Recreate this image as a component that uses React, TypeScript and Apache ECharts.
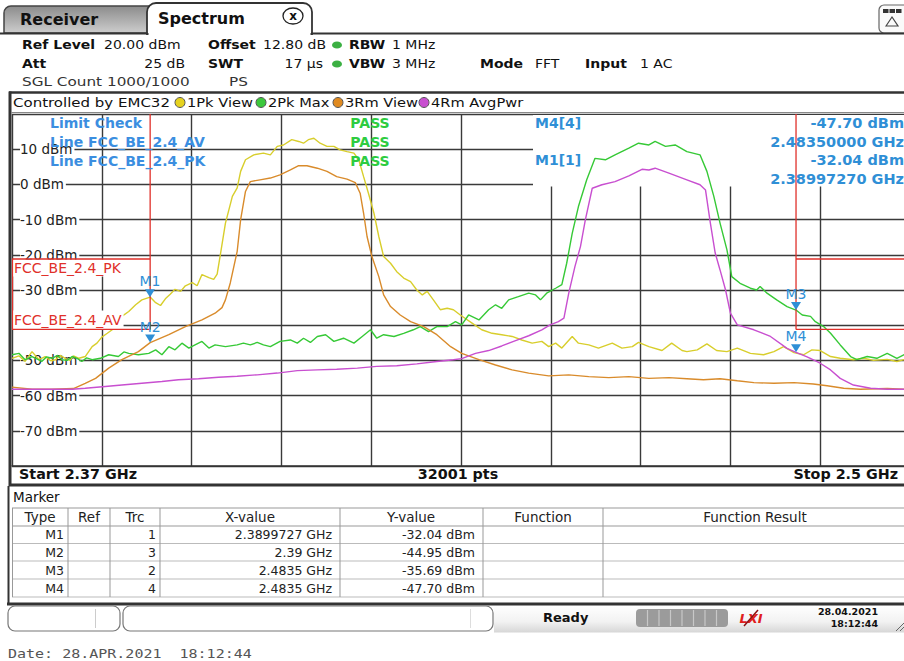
import React, { useEffect, useRef } from "react";
import * as echarts from "echarts";

const FONT = '"DejaVu Sans", Verdana, sans-serif';
const MONO = '"DejaVu Sans Mono", monospace';

const startGHz = 2.37;
const stopGHz = 2.5;
const refTop = 20;
const refBottom = -80;
const dbPerDiv = 10;
const mhzPerDiv = 13;
const sweepPoints = 32001;

const traceNames = ["1Pk View", "2Pk Max", "3Rm View", "4Rm AvgPwr"];
const traceColors = ["#d8ce2c", "#36c936", "#d98b2b", "#c84fd0"];
const legendDotColors = ["#e6d21e", "#3cc83c", "#e08a20", "#c84fd0"];

// [frequency GHz, level dBm]
const trace1PkView: [number, number][] = [
  [2.3700, -49.4], [2.3710, -48.7], [2.3719, -50.3], [2.3729, -47.5], [2.3739, -49.8], [2.3748, -48.9],
  [2.3756, -50.1], [2.3763, -49.8], [2.3770, -48.6], [2.3777, -49.4], [2.3784, -50.0], [2.3789, -48.7],
  [2.3797, -49.4], [2.3806, -48.9], [2.3816, -46.1], [2.3823, -45.1], [2.3830, -43.4], [2.3838, -42.3],
  [2.3845, -41.3], [2.3852, -39.0], [2.3859, -37.5], [2.3869, -36.1], [2.3879, -34.2], [2.3888, -32.8],
  [2.3900, -32.0], [2.3908, -33.6], [2.3915, -34.4], [2.3922, -32.5], [2.3929, -31.2], [2.3936, -29.8],
  [2.3944, -30.4], [2.3951, -28.8], [2.3961, -27.9], [2.3968, -28.8], [2.3975, -25.6], [2.3985, -26.5],
  [2.3992, -27.0], [2.3997, -25.5], [2.4002, -19.5], [2.4009, -11.0], [2.4019, -3.4], [2.4026, -1.0],
  [2.4031, 3.7], [2.4038, 7.0], [2.4050, 8.4], [2.4064, 8.9], [2.4074, 8.4], [2.4084, 10.8],
  [2.4093, 11.2], [2.4105, 12.7], [2.4115, 12.2], [2.4122, 11.7], [2.4129, 12.7], [2.4137, 13.1],
  [2.4146, 11.7], [2.4156, 10.8], [2.4166, 10.8], [2.4175, 9.8], [2.4185, 9.3], [2.4195, 8.9],
  [2.4202, 7.0], [2.4209, 2.2], [2.4216, -2.5], [2.4224, -8.2], [2.4231, -14.8], [2.4238, -20.5],
  [2.4248, -22.4], [2.4257, -24.8], [2.4267, -26.6], [2.4277, -27.6], [2.4286, -30.0], [2.4294, -31.4],
  [2.4301, -30.4], [2.4310, -32.8], [2.4320, -35.6], [2.4330, -35.2], [2.4339, -35.6], [2.4349, -37.1],
  [2.4366, -39.4], [2.4380, -41.3], [2.4395, -42.3], [2.4409, -42.7], [2.4424, -43.2], [2.4438, -44.2],
  [2.4453, -45.1], [2.4467, -44.6], [2.4477, -46.1], [2.4487, -45.1], [2.4496, -46.5], [2.4511, -43.2],
  [2.4520, -45.1], [2.4535, -45.6], [2.4549, -46.5], [2.4569, -45.1], [2.4583, -46.5], [2.4598, -46.1],
  [2.4607, -44.9], [2.4622, -46.1], [2.4641, -47.2], [2.4655, -45.1], [2.4670, -47.2], [2.4677, -47.5],
  [2.4692, -47.0], [2.4706, -45.3], [2.4720, -47.2], [2.4735, -47.5], [2.4750, -46.5], [2.4769, -48.0],
  [2.4788, -48.4], [2.4803, -47.5], [2.4817, -46.1], [2.4832, -47.8], [2.4846, -48.4], [2.4858, -47.0],
  [2.4870, -47.2], [2.4885, -48.9], [2.4899, -49.4], [2.4918, -49.8], [2.4933, -49.4], [2.4947, -50.0],
  [2.4967, -49.7], [2.4981, -50.3], [2.4991, -49.8], [2.5000, -49.5],
];

const trace2PkMax: [number, number][] = [
  [2.3700, -48.4], [2.3710, -48.0], [2.3719, -49.8], [2.3729, -48.9], [2.3736, -49.6], [2.3743, -50.3],
  [2.3750, -49.0], [2.3758, -49.4], [2.3766, -48.6], [2.3772, -49.8], [2.3780, -50.0], [2.3787, -48.9],
  [2.3795, -49.5], [2.3801, -50.3], [2.3808, -49.3], [2.3816, -49.8], [2.3828, -49.4], [2.3840, -48.4],
  [2.3854, -48.9], [2.3862, -47.6], [2.3869, -48.0], [2.3883, -48.4], [2.3898, -48.0], [2.3908, -47.0],
  [2.3917, -48.4], [2.3927, -46.1], [2.3936, -47.0], [2.3946, -45.1], [2.3956, -46.5], [2.3965, -45.6],
  [2.3975, -44.6], [2.3985, -46.5], [2.3994, -45.6], [2.4009, -46.1], [2.4026, -45.6], [2.4035, -45.1],
  [2.4045, -45.6], [2.4055, -44.9], [2.4064, -45.6], [2.4074, -46.1], [2.4088, -44.6], [2.4103, -44.2],
  [2.4113, -45.1], [2.4122, -43.7], [2.4132, -44.9], [2.4142, -43.2], [2.4154, -42.7], [2.4166, -44.6],
  [2.4180, -43.7], [2.4195, -45.1], [2.4207, -43.2], [2.4219, -41.3], [2.4228, -43.7], [2.4238, -42.7],
  [2.4253, -43.2], [2.4267, -42.3], [2.4281, -41.3], [2.4291, -40.4], [2.4303, -41.8], [2.4315, -40.4],
  [2.4330, -40.4], [2.4342, -39.0], [2.4351, -39.9], [2.4361, -37.1], [2.4376, -38.5], [2.4390, -35.6],
  [2.4400, -34.2], [2.4409, -35.2], [2.4419, -32.8], [2.4433, -31.9], [2.4448, -30.9], [2.4458, -31.4],
  [2.4465, -32.8], [2.4474, -30.9], [2.4487, -29.5], [2.4496, -28.5], [2.4503, -22.4], [2.4511, -13.9],
  [2.4520, -6.3], [2.4532, 1.3], [2.4544, 7.4], [2.4559, 7.0], [2.4573, 8.4], [2.4593, 10.3],
  [2.4607, 11.7], [2.4622, 11.2], [2.4631, 12.2], [2.4646, 10.8], [2.4660, 11.2], [2.4677, 9.3],
  [2.4696, 8.4], [2.4706, 3.7], [2.4716, -3.4], [2.4725, -11.0], [2.4735, -18.6], [2.4742, -26.2],
  [2.4754, -28.1], [2.4769, -29.5], [2.4778, -30.0], [2.4783, -29.0], [2.4793, -30.9], [2.4807, -32.8],
  [2.4822, -34.7], [2.4835, -35.7], [2.4844, -37.1], [2.4856, -37.5], [2.4863, -39.0], [2.4875, -40.4],
  [2.4885, -42.3], [2.4899, -45.6], [2.4914, -48.9], [2.4923, -49.8], [2.4938, -48.9], [2.4952, -49.4],
  [2.4967, -48.0], [2.4981, -49.4], [2.4991, -48.4], [2.5000, -48.6],
];

const trace3RmView: [number, number][] = [
  [2.3700, -57.6], [2.3729, -58.2], [2.3758, -58.2], [2.3789, -58.0], [2.3806, -56.5], [2.3821, -55.1],
  [2.3840, -52.2], [2.3859, -49.8], [2.3883, -47.5], [2.3900, -44.95], [2.3927, -42.7], [2.3951, -40.4],
  [2.3975, -38.5], [2.3994, -36.6], [2.4004, -35.0], [2.4009, -32.8], [2.4016, -28.0], [2.4026, -19.0],
  [2.4031, -10.0], [2.4038, -2.0], [2.4045, 0.8], [2.4059, 1.3], [2.4074, 1.8], [2.4088, 2.7],
  [2.4103, 4.1], [2.4115, 5.3], [2.4127, 5.3], [2.4142, 4.6], [2.4156, 3.7], [2.4170, 2.2],
  [2.4185, 1.5], [2.4197, 0.5], [2.4204, -2.5], [2.4209, -8.2], [2.4214, -14.8], [2.4221, -20.5],
  [2.4231, -26.2], [2.4238, -31.4], [2.4248, -34.7], [2.4262, -37.1], [2.4277, -39.0], [2.4296, -40.4],
  [2.4315, -42.7], [2.4335, -46.1], [2.4351, -48.0], [2.4376, -49.8], [2.4400, -51.3], [2.4424, -52.7],
  [2.4448, -53.6], [2.4477, -54.4], [2.4506, -54.1], [2.4535, -54.6], [2.4564, -54.9], [2.4593, -54.6],
  [2.4622, -55.1], [2.4651, -54.9], [2.4677, -55.2], [2.4701, -55.5], [2.4725, -55.2], [2.4750, -55.8],
  [2.4774, -56.3], [2.4803, -56.5], [2.4832, -56.3], [2.4860, -56.7], [2.4880, -57.2], [2.4904, -57.9],
  [2.4928, -58.2], [2.4967, -58.0], [2.5000, -58.2],
];

const trace4RmAvgPwr: [number, number][] = [
  [2.3700, -58.2], [2.3787, -58.2], [2.3806, -57.9], [2.3835, -57.4], [2.3859, -57.0], [2.3888, -56.5],
  [2.3917, -56.0], [2.3941, -55.5], [2.3970, -55.2], [2.3999, -54.8], [2.4026, -54.5], [2.4055, -54.1],
  [2.4084, -53.6], [2.4113, -52.9], [2.4142, -52.7], [2.4170, -52.5], [2.4200, -52.2], [2.4228, -51.7],
  [2.4257, -51.5], [2.4286, -51.0], [2.4315, -50.3], [2.4339, -49.8], [2.4351, -49.5], [2.4371, -48.0],
  [2.4390, -47.2], [2.4409, -45.9], [2.4429, -44.4], [2.4448, -43.0], [2.4467, -41.3], [2.4479, -39.9],
  [2.4491, -39.0], [2.4499, -38.0], [2.4506, -30.9], [2.4515, -23.3], [2.4523, -17.6], [2.4530, -10.1],
  [2.4540, -1.1], [2.4554, -0.1], [2.4573, 0.8], [2.4593, 2.4], [2.4612, 4.3], [2.4622, 4.1],
  [2.4631, 4.6], [2.4651, 3.2], [2.4677, 1.3], [2.4696, -0.1], [2.4704, -1.6], [2.4711, -11.0],
  [2.4718, -19.5], [2.4725, -24.3], [2.4733, -30.0], [2.4740, -36.6], [2.4750, -39.9], [2.4774, -41.3],
  [2.4798, -43.2], [2.4822, -46.6], [2.4835, -47.7], [2.4851, -49.0], [2.4870, -50.8], [2.4885, -52.7],
  [2.4899, -55.1], [2.4918, -57.0], [2.4943, -57.9], [2.4967, -58.2], [2.5000, -58.2],
];

const traces = [trace1PkView, trace2PkMax, trace3RmView, trace4RmAvgPwr];

const limitPkDbm = -21.2;
const limitAvDbm = -41.2;
const restrictedLowEdgeGHz = 2.39;
const restrictedHighEdgeGHz = 2.4835;
const limitLineNames = ["FCC_BE_2.4_PK", "FCC_BE_2.4_AV"];

const markers = [
  { name: "M1", trace: 1, freq: 2.3899727, level: -32.04 },
  { name: "M2", trace: 3, freq: 2.39, level: -44.95 },
  { name: "M3", trace: 2, freq: 2.4835, level: -35.69 },
  { name: "M4", trace: 4, freq: 2.4835, level: -47.7 },
];

const tableHeaders = ["Type", "Ref", "Trc", "X-value", "Y-value", "Function", "Function Result"];

const BLUE = "#2f8fd6";
const RED = "#e0302a";
const GRID = "#3a3a3a";

const toMHz = (f: number) => Math.round((f - startGHz) * 1e6) / 1000;

function txt(x: number, y: number, text: string, o: any = {}) {
  return {
    type: "text",
    x,
    y,
    z: o.z ?? 10,
    scaleX: o.sx ?? 1,
    silent: true,
    style: {
      text,
      fill: o.color ?? "#111",
      fontSize: o.size ?? 13,
      fontFamily: o.family ?? FONT,
      fontWeight: o.bold ? "bold" : "normal",
      fontStyle: o.italic ? "italic" : "normal",
      textAlign: o.align ?? "left",
      textVerticalAlign: "middle",
      backgroundColor: o.bg,
      padding: o.pad,
    },
  };
}
function ln(x1: number, y1: number, x2: number, y2: number, stroke: string, lineWidth = 1, z = 10) {
  return { type: "line", z, silent: true, shape: { x1, y1, x2, y2 }, style: { stroke, lineWidth } };
}

export default function App() {
  const ref = useRef<HTMLDivElement>(null);
  useEffect(() => {
    document.body.style.margin = "0";
    if (!ref.current) return;
    const chart = echarts.init(ref.current, null, { renderer: "svg" });

    const series: any[] = traces.map((data, i) => ({
      type: "line",
      name: traceNames[i],
      data: data.map(([f, v]) => [toMHz(f), v]),
      symbol: "none",
      showSymbol: false,
      silent: true,
      clip: false,
      z: 2,
      lineStyle: { color: traceColors[i], width: 1.4 },
      markPoint: {
        silent: true,
        z: 6,
        symbol: "path://M0,0L10,0L5,8Z",
        symbolSize: [10, 8],
        symbolOffset: [0, -4],
        itemStyle: { color: BLUE },
        label: {
          show: true,
          position: "top",
          distance: 1,
          color: BLUE,
          fontSize: 14,
          fontFamily: FONT,
          formatter: "{b}",
        },
        data: markers
          .filter((m) => m.trace === i + 1)
          .map((m) => ({ name: m.name, coord: [toMHz(m.freq), m.level] })),
      },
    }));

    const limitSegments: [number, number][][] = [
      [[startGHz, limitPkDbm], [restrictedLowEdgeGHz, limitPkDbm]],
      [[startGHz, limitAvDbm], [restrictedLowEdgeGHz, limitAvDbm]],
      [[restrictedLowEdgeGHz, refTop], [restrictedLowEdgeGHz, limitAvDbm]],
      [[restrictedHighEdgeGHz, refTop], [restrictedHighEdgeGHz, limitAvDbm]],
      [[restrictedHighEdgeGHz, limitPkDbm], [stopGHz, limitPkDbm]],
      [[restrictedHighEdgeGHz, limitAvDbm], [stopGHz, limitAvDbm]],
    ];
    limitSegments.forEach((seg) =>
      series.push({
        type: "line",
        data: seg.map(([f, v]) => [toMHz(f), v]),
        symbol: "none",
        silent: true,
        z: 4,
        lineStyle: { color: RED, width: 1.3 },
      })
    );

    const g: any[] = [];
    // tabs
    g.push({
      type: "rect", z: 10, silent: true,
      shape: { x: 4, y: 6, width: 150, height: 27, r: [7, 0, 0, 0] },
      style: {
        fill: new echarts.graphic.LinearGradient(0, 0, 0, 1, [
          { offset: 0, color: "#8c8c8c" },
          { offset: 1, color: "#cdcdcd" },
        ]),
        stroke: "#444", lineWidth: 1.5,
      },
    });
    g.push({
      type: "rect", z: 11, silent: true,
      shape: { x: 147, y: 3, width: 165, height: 31, r: [9, 9, 0, 0] },
      style: { fill: "#fff", stroke: "#333", lineWidth: 1.8 },
    });
    g.push({ type: "rect", z: 12, silent: true, shape: { x: 148.5, y: 31.5, width: 162, height: 4 }, style: { fill: "#fff" } });
    g.push(ln(0, 33.5, 148, 33.5, "#333", 2, 12));
    g.push(ln(311, 33.5, 904, 33.5, "#333", 2, 12));
    g.push(txt(20, 19, "Receiver", { bold: true, size: 16, z: 13 }));
    g.push(txt(158, 18, "Spectrum", { bold: true, size: 16, z: 13 }));
    g.push({ type: "ellipse", z: 13, silent: true, shape: { cx: 293, cy: 16, rx: 10, ry: 8 }, style: { fill: "#fff", stroke: "#222", lineWidth: 1.3 } });
    g.push(txt(293, 15.5, "x", { bold: true, size: 12, align: "center", z: 14 }));
    // top-right icon
    g.push({ type: "rect", z: 10, silent: true, shape: { x: 879, y: 5, width: 30, height: 28, r: 5 }, style: { fill: "#fafafa", stroke: "#666", lineWidth: 1.2 } });
    [883, 889.5, 896].forEach((x) =>
      g.push({ type: "rect", z: 11, silent: true, shape: { x, y: 9, width: 5.5, height: 4 }, style: { fill: "#333" } })
    );
    g.push({ type: "polygon", z: 11, silent: true, shape: { points: [[886, 26], [892, 17], [898, 26]] }, style: { fill: "none", stroke: "#444", lineWidth: 1.2 } });

    // header rows
    const H = (x: number, y: number, t: string, bold = false, align = "left", color = "#111", sx = 1.12) =>
      g.push(txt(x, y, t, { bold, align, sx, size: 12.5, color }));
    H(22, 45, "Ref Level", true);
    H(104, 45, `${refTop.toFixed(2)} dBm`);
    H(208, 45, "Offset", true);
    H(263, 45, "12.80 dB");
    H(349, 45, "RBW", true);
    H(392, 45, "1 MHz");
    H(22, 64, "Att", true);
    H(185, 64, "25 dB", false, "right");
    H(208, 64, "SWT", true);
    H(323, 64, "17 µs", false, "right");
    H(349, 64, "VBW", true);
    H(392, 64, "3 MHz");
    H(480, 64, "Mode", true);
    H(535, 64, "FFT");
    H(585, 64, "Input", true);
    H(640, 64, "1 AC");
    H(22, 82, "SGL Count 1000/1000", false, "left", "#333", 1.22);
    H(229, 82, "PS", false, "left", "#333", 1.22);
    [45, 64].forEach((y) =>
      g.push({ type: "ellipse", z: 10, silent: true, shape: { cx: 337, cy: y, rx: 5, ry: 3.6 }, style: { fill: "#3cb043" } })
    );

    // legend row
    g.push(ln(9, 92.5, 904, 92.5, "#333", 2.5));
    g.push(ln(10, 91.5, 10, 486, "#333", 3));
    g.push(ln(11, 112.5, 904, 112.5, "#888", 1));
    g.push(txt(13, 102.5, "Controlled by EMC32", { sx: 1.2, size: 12.5 }));
    const dotX = [180, 261, 338, 424];
    traceNames.forEach((n, i) => {
      g.push({ type: "circle", z: 10, silent: true, shape: { cx: dotX[i], cy: 102.5, r: 5 }, style: { fill: legendDotColors[i], stroke: "#555", lineWidth: 1 } });
      g.push(txt(dotX[i] + 7, 102.5, n, { sx: 1.17, size: 12.5 }));
    });

    // marker info box (covers grid, below traces)
    g.push({ type: "rect", z: 1, silent: true, shape: { x: 533, y: 115, width: 380, height: 71.5 }, style: { fill: "#fff" } });

    // limit check
    g.push(txt(50, 123, "Limit Check", { bold: true, size: 14, color: "#3b8ee0" }));
    g.push(txt(50, 142, `Line ${limitLineNames[1]}`, { bold: true, size: 14, color: "#3b8ee0" }));
    g.push(txt(50, 161, `Line ${limitLineNames[0]}`, { bold: true, size: 14, color: "#3b8ee0" }));
    [123, 142, 161].forEach((y) => g.push(txt(370, y, "PASS", { bold: true, size: 14, color: "#2ecc40", align: "center" })));

    // marker readouts
    const m4 = markers[3];
    const m1 = markers[0];
    g.push(txt(535, 123, `${m4.name}[${m4.trace}]`, { bold: true, size: 14, color: BLUE }));
    g.push(txt(535, 160, `${m1.name}[${m1.trace}]`, { bold: true, size: 14, color: BLUE }));
    g.push(txt(904, 123, `${m4.level.toFixed(2)} dBm`, { bold: true, size: 14.5, color: BLUE, align: "right" }));
    g.push(txt(904, 142, `${m4.freq.toFixed(8)} GHz`, { bold: true, size: 14.5, color: BLUE, align: "right" }));
    g.push(txt(904, 160, `${m1.level.toFixed(2)} dBm`, { bold: true, size: 14.5, color: BLUE, align: "right" }));
    g.push(txt(904, 179, `${m1.freq.toFixed(8)} GHz`, { bold: true, size: 14.5, color: BLUE, align: "right" }));

    // limit line labels
    g.push(txt(13, 268, limitLineNames[0], { size: 14, color: RED, bg: "#fff", pad: [1, 2, 2, 1], z: 3 }));
    g.push(txt(13, 320, limitLineNames[1], { size: 14, color: RED, bg: "#fff", pad: [3, 2, 2, 1], z: 3 }));
    g.push(ln(12.5, 259, 12.5, 330, RED, 1.2, 4));

    // bottom row of diagram
    g.push(txt(19, 474.5, `Start ${startGHz} GHz`, { bold: true, size: 13.5, sx: 1.06 }));
    g.push(txt(458, 474.5, `${sweepPoints} pts`, { bold: true, size: 13.5, sx: 1.06, align: "center" }));
    g.push(txt(898, 474.5, `Stop ${stopGHz} GHz`, { bold: true, size: 13.5, sx: 1.06, align: "right" }));
    g.push(ln(9, 485, 904, 485, "#333", 3));

    // marker table
    g.push(ln(8.5, 486, 8.5, 604, "#333", 2));
    g.push(txt(13, 497, "Marker", { size: 13.5 }));
    const colX = [12.5, 68, 110, 160, 340, 483, 603];
    const rowY = [508, 526, 543.5, 561, 579, 597];
    rowY.forEach((y, i) => g.push(ln(12, y, 904, y, i <= 1 ? "#999" : "#bbb", 1)));
    colX.forEach((x) => g.push(ln(x, 508, x, 597, "#999", 1)));
    const headCx = [40, 89, 135, 250, 411, 543, 755];
    tableHeaders.forEach((h, i) => g.push(txt(headCx[i], 517, h, { size: 13.5, align: "center", color: "#222" })));
    markers.forEach((m, r) => {
      const y = (rowY[r + 1] + rowY[r + 2]) / 2;
      g.push(txt(64, y, m.name, { size: 12.5, align: "right", color: "#222" }));
      g.push(txt(156, y, String(m.trace), { size: 12.5, align: "right", color: "#222" }));
      g.push(txt(332, y, `${m.freq} GHz`, { size: 12.5, align: "right", color: "#222" }));
      g.push(txt(475, y, `${m.level.toFixed(2)} dBm`, { size: 12.5, align: "right", color: "#222" }));
    });
    g.push(ln(7, 604, 904, 604, "#333", 3));

    // status bar
    g.push({ type: "rect", z: 9, silent: true, shape: { x: 494, y: 605.5, width: 410, height: 27 },
      style: { fill: new echarts.graphic.LinearGradient(0, 0, 0, 1, [{ offset: 0, color: "#ffffff" }, { offset: 0.6, color: "#f2f2f2" }, { offset: 1, color: "#d6d6d6" }]) } });
    g.push({ type: "rect", z: 10, silent: true, shape: { x: 8, y: 606, width: 112, height: 25, r: 7 }, style: { fill: "#fff", stroke: "#777", lineWidth: 1.2 } });
    g.push(ln(95.5, 609, 95.5, 628, "#ccc", 1));
    g.push({ type: "rect", z: 10, silent: true, shape: { x: 123, y: 606, width: 370, height: 25, r: 7 }, style: { fill: "#fff", stroke: "#777", lineWidth: 1.2 } });
    g.push(ln(470.5, 609, 470.5, 628, "#ddd", 1));
    g.push(txt(543, 617, "Ready", { bold: true, size: 13 }));
    g.push({ type: "rect", z: 10, silent: true, shape: { x: 636, y: 609, width: 92, height: 18, r: 4 }, style: { fill: "#9b9b9b" } });
    for (let k = 1; k < 8; k++) g.push(ln(636 + k * 11.5, 610, 636 + k * 11.5, 626, "#c8c8c8", 1.2, 11));
    g.push(txt(751, 618, "LXI", { bold: true, italic: true, size: 13, color: "#e0201c", align: "center" }));
    g.push(ln(744, 626, 758, 610, "#8a1010", 1.5, 11));
    g.push(txt(878, 611.5, "28.04.2021", { bold: true, size: 9.5, align: "right" }));
    g.push(txt(878, 623.5, "18:12:44", { bold: true, size: 9.5, align: "right" }));
    g.push(ln(896, 631, 904, 623, "#666", 1));
    g.push(ln(900, 631, 904, 627, "#666", 1));

    // date footer
    g.push(txt(8, 654, "Date: 28.APR.2021  18:12:44", { family: MONO, size: 12, sx: 1.25, color: "#555" }));

    chart.setOption({
      animation: false,
      backgroundColor: "#fff",
      grid: { left: 12, top: 114, width: 898, height: 352, outerBoundsMode: "none", containLabel: false },
      xAxis: {
        type: "value",
        min: 0,
        max: (stopGHz - startGHz) * 1000,
        interval: mhzPerDiv,
        axisLine: { show: true, onZero: false, lineStyle: { color: "#333", width: 1.5 } },
        axisTick: { show: false },
        axisLabel: { show: false },
        splitLine: { show: true, lineStyle: { color: GRID, width: 1.4 } },
      },
      yAxis: [
        {
          type: "value",
          min: refBottom,
          max: refTop,
          interval: dbPerDiv,
          z: 0,
          axisLine: { show: false },
          axisTick: { show: false },
          axisLabel: { show: false },
          splitLine: { show: true, lineStyle: { color: GRID, width: 1.4 } },
        },
        {
          type: "value",
          min: refBottom,
          max: refTop,
          interval: dbPerDiv,
          position: "left",
          z: 1,
          axisLine: { show: false },
          axisTick: { show: false },
          splitLine: { show: false },
          axisLabel: {
            show: true,
            inside: true,
            margin: 8,
            showMinLabel: false,
            showMaxLabel: false,
            color: "#222",
            fontSize: 13.5,
            fontFamily: FONT,
            backgroundColor: "#fff",
            padding: [0, 2, 0, 0],
            formatter: (v: number) => (v === refTop || v === refBottom ? "" : `${v} dBm`),
          },
        },
      ],
      series,
      graphic: { elements: g },
    });
    return () => chart.dispose();
  }, []);
  return <div ref={ref} style={{ width: 904, height: 661 }} />;
}
